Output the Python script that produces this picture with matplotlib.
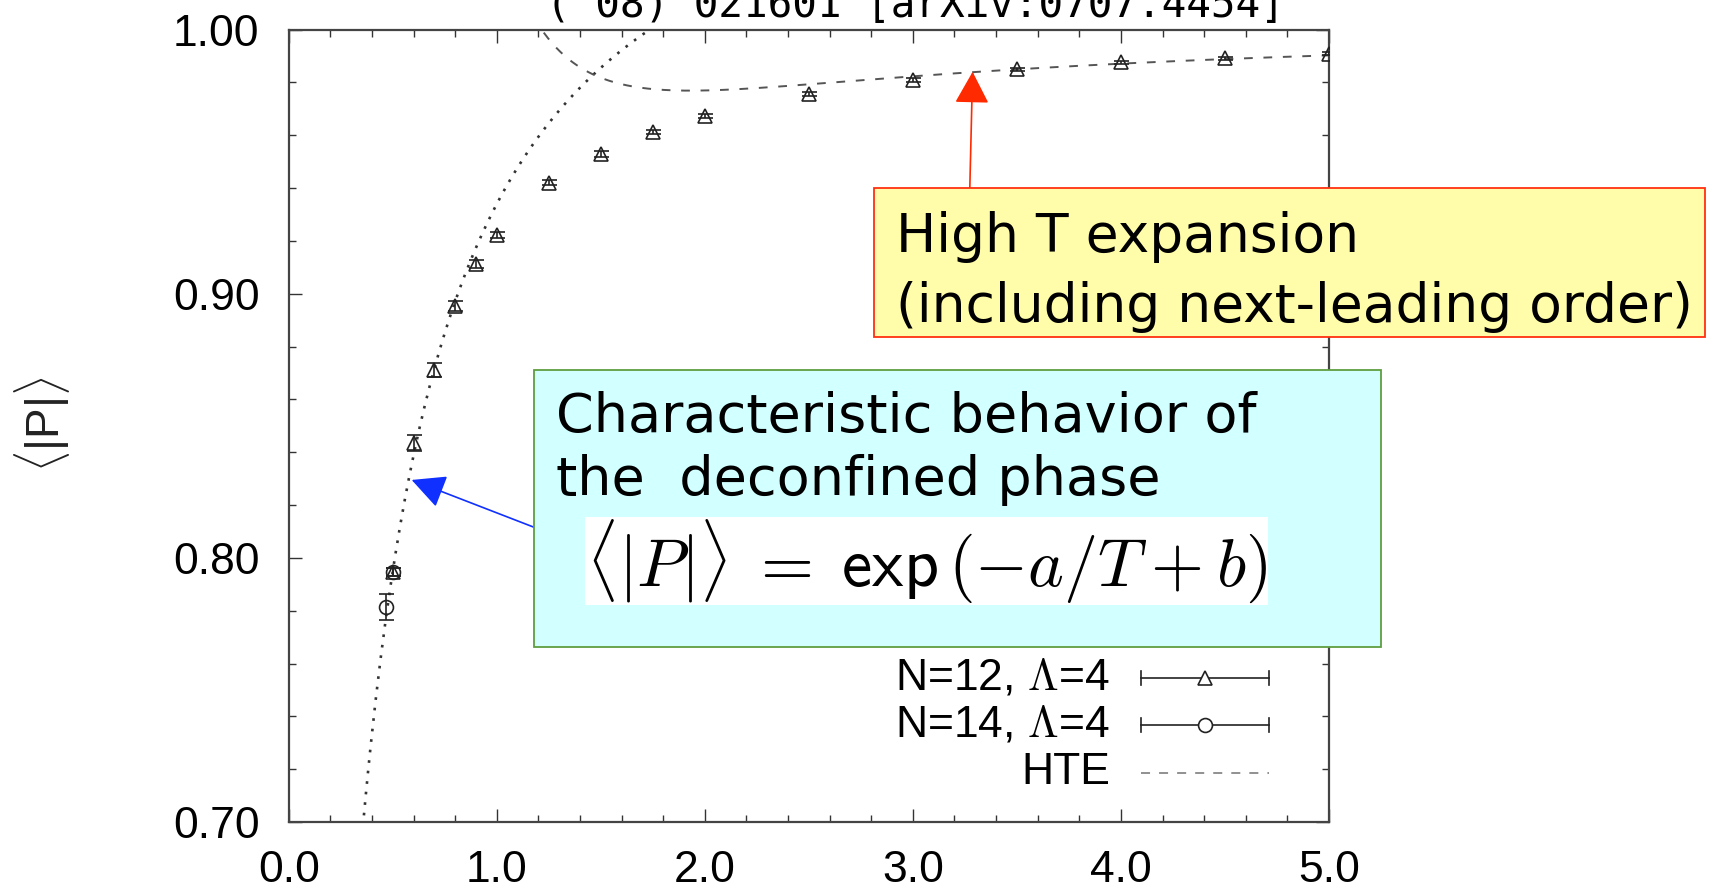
"""Polyakov loop <|P|> vs temperature: Monte Carlo data with the
low-T exponential fit and the high-T expansion."""
import numpy as np
import matplotlib.pyplot as plt
from matplotlib.lines import Line2D
from matplotlib.patches import Rectangle
from matplotlib.ticker import MultipleLocator

plt.rcParams['mathtext.fontset'] = 'cm'

# Monte Carlo data, N=12, Lambda=4
T12 = [0.5, 0.6, 0.7, 0.8, 0.9, 1.0, 1.25, 1.5, 1.75, 2.0, 2.5, 3.0, 3.5, 4.0, 4.5, 5.0]
P12 = [0.7948, 0.8435, 0.8711, 0.8953, 0.9111, 0.9222, 0.9420, 0.9529, 0.9611, 0.9674,
       0.9755, 0.9809, 0.9850, 0.9876, 0.9891, 0.9908]
E12 = [0.0015, 0.0030, 0.0026, 0.0020, 0.0015, 0.0012, 0.0010, 0.0010, 0.0008, 0.0008,
       0.0008, 0.0008, 0.0006, 0.0006, 0.0006, 0.0006]

# N=14, Lambda=4
T14 = [0.47, 0.5]
P14 = [0.7815, 0.7948]
E14 = [0.0050, 0.0015]

# fit <|P|> = exp(-a/T + b)
FIT_A, FIT_B = 0.1612, 0.0929
# high T expansion: 1 - c1 T^(-3/2) + c2 T^(-3)
HTE_C1, HTE_C2 = 0.1239, 0.1661

XTICKS = [0.0, 1.0, 2.0, 3.0, 4.0, 5.0]
YTICKS = [0.70, 0.80, 0.90, 1.00]

W, H = 1721, 888


def fx(x):
    return x / W


def fy(y):
    return 1 - y / H


fig = plt.figure(figsize=(W / 100, H / 100), dpi=100)
ax = fig.add_axes([fx(288.7), fy(822), (1329 - 288.7) / W, (822 - 29.6) / H])

ink = '#222222'
tick_font = dict(family='Liberation Sans', size=32)

# fit curves
t_fit = np.linspace(0.3, 5.0, 400)
ax.plot(t_fit, np.exp(-FIT_A / t_fit + FIT_B), color='#333333', lw=1.9,
        linestyle=(0, (1, 3)), zorder=2)
t_hte = np.linspace(1.1, 5.0, 400)
ax.plot(t_hte, 1 - HTE_C1 * t_hte ** -1.5 + HTE_C2 * t_hte ** -3.0,
        color='#555555', lw=1.4, linestyle=(0, (4.5, 5.5)), zorder=2)

# data
ax.errorbar(T12, P12, yerr=E12, fmt='^', ms=10, mfc='none', mec=ink, mew=1.2,
            ecolor=ink, elinewidth=1.2, capsize=5.4, capthick=1.2, zorder=3)
ax.errorbar(T14, P14, yerr=E14, fmt='o', ms=10, mfc='none', mec=ink, mew=1.2,
            ecolor=ink, elinewidth=1.2, capsize=5.4, capthick=1.2, zorder=3)

ax.set_xlim(0.0, 5.0)
ax.set_ylim(0.70, 1.00)
ax.set_xticks(XTICKS)
ax.set_yticks(YTICKS)
ax.set_xticklabels([f'{v:.1f}' for v in XTICKS], fontdict=tick_font)
ax.set_yticklabels([f'{v:.2f}' for v in YTICKS], fontdict=tick_font)
ax.xaxis.set_minor_locator(MultipleLocator(0.2))
ax.yaxis.set_minor_locator(MultipleLocator(0.02))
ax.tick_params(which='both', direction='in', top=True, right=True, color='#333333')
ax.tick_params(which='major', length=9.5, width=1.0)
ax.tick_params(which='minor', length=5, width=1.0)
ax.tick_params(axis='x', pad=20)
ax.tick_params(axis='y', pad=21)
for s in ax.spines.values():
    s.set_linewidth(1.6)
    s.set_color('#444444')

fig.text(fx(42), fy(424), r'$\langle$|P|$\rangle$', rotation=90, ha='center', va='center',
         fontsize=33, family='Liberation Sans', color='#222222')

# reference line at the top, partly cut off
fig.text(fx(545.5), fy(17), "('08) 021601 [arXiv:0707.4454]", family='DejaVu Sans Mono',
         fontsize=29.5, va='baseline', ha='left')

# legend
leg_rows = [('N=12, $\\mathrm{\\Lambda}$=4', '^'), ('N=14, $\\mathrm{\\Lambda}$=4', 'o'),
            ('HTE', None)]
for i, (label, mk) in enumerate(leg_rows):
    yrow = 678 + 47.3 * i
    fig.text(fx(1110), fy(yrow), label, ha='right', va='center', fontsize=32,
             family='Liberation Sans')
    if mk is None:
        fig.add_artist(Line2D([fx(1141), fx(1269)], [fy(yrow), fy(yrow)], color='#888888',
                              lw=1.3, linestyle=(0, (5, 5))))
        continue
    fig.add_artist(Line2D([fx(1141), fx(1269)], [fy(yrow), fy(yrow)], color=ink, lw=1.2))
    for xc in (1141, 1269):
        fig.add_artist(Line2D([fx(xc), fx(xc)], [fy(yrow - 7), fy(yrow + 7)], color=ink, lw=1.2))
    fig.add_artist(Line2D([fx(1205)], [fy(yrow)], marker=mk, ms=10, mfc='white',
                          mec=ink, mew=1.2))

# annotation boxes
yellow = Rectangle((fx(873.7), fy(336.7)), (1704.6 - 873.7) / W, (336.7 - 188.3) / H,
                   transform=fig.transFigure, facecolor='#FFFCAA', edgecolor='#FF3010',
                   lw=1.3, zorder=5)
fig.add_artist(yellow)
fig.text(fx(895.7), fy(251.7), 'High T expansion', fontsize=38.5, family='DejaVu Sans',
         va='baseline', zorder=6)
fig.text(fx(895.7), fy(321.7), '(including next-leading order)', fontsize=38.5,
         family='DejaVu Sans', va='baseline', zorder=6)

cyan = Rectangle((fx(534), fy(646.7)), (1381.4 - 534) / W, (646.7 - 370) / H,
                 transform=fig.transFigure, facecolor='#D2FFFF', edgecolor='#5E9E40',
                 lw=1.3, zorder=5)
fig.add_artist(cyan)
fig.text(fx(556.5), fy(431.7), 'Characteristic behavior of', fontsize=39,
         family='DejaVu Sans', va='baseline', zorder=6)
fig.text(fx(556.5), fy(495), 'the  deconfined phase', fontsize=39,
         family='DejaVu Sans', va='baseline', zorder=6)
fig.text(fx(586), fy(561),
         r'$\langle |P| \rangle \;=\; \mathsf{exp}\,(-a/T \:+\: b)$',
         fontsize=49, va='center', ha='left', zorder=6,
         bbox=dict(facecolor='white', edgecolor='none', pad=0.5))

# arrows
ax.annotate('', xy=(3.287, 0.984), xycoords='data',
            xytext=(fx(969.8), fy(188.3)), textcoords='figure fraction',
            arrowprops=dict(arrowstyle='-|>,head_length=20,head_width=10.8',
                            mutation_scale=1, color='#FF2A00', lw=1.2,
                            shrinkA=0, shrinkB=0),
            zorder=4, annotation_clip=False)
ax.annotate('', xy=(0.591, 0.8295), xycoords='data',
            xytext=(fx(536.7), fy(528.3)), textcoords='figure fraction',
            arrowprops=dict(arrowstyle='-|>,head_length=21,head_width=10.5',
                            mutation_scale=1, color='#1030FF', lw=1.2,
                            shrinkA=0, shrinkB=0),
            zorder=4, annotation_clip=False)

fig.savefig('out.png', dpi=100)
